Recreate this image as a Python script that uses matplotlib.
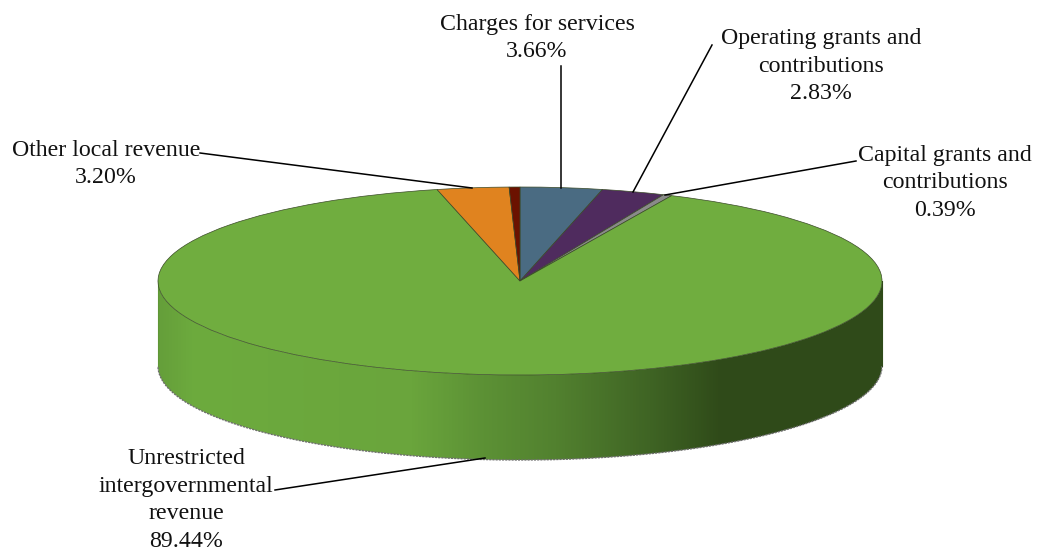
import numpy as np
from matplotlib import pyplot as plt
from matplotlib.colors import LinearSegmentedColormap
from matplotlib.patches import Polygon

plt.rcParams['font.family'] = ['Liberation Serif', 'DejaVu Serif']

# shares in percent, clockwise from 12 o'clock
labels = ['Charges for services\n3.66%',
          'Operating grants and\ncontributions\n2.83%',
          'Capital grants and\ncontributions\n0.39%',
          'Unrestricted\nintergovernmental\nrevenue\n89.44%',
          'Other local revenue\n3.20%',
          '']
values = [3.66, 2.83, 0.39, 89.44, 3.20, 0.48]
colors = ['#4a6b82', '#4f2b5e', '#8a8a8a', '#70ad3f', '#e0831f', '#6b1200']

# where labels and leader lines sit, in image pixels
label_pos = [(537, 38), (821, 66), (945, 183), (186, 500), (106, 164)]
leaders = [((561, 66), (561, 188)),
           ((712, 45), (633, 192)),
           ((856, 161), (665, 195)),
           ((275, 490), (485, 458)),
           ((200, 153), (472, 188))]

cx, cy, rx, ry = 520, 281, 362, 94
depth = 85

fig = plt.figure(figsize=(10.39, 5.5), dpi=100)
back = fig.add_axes([0, 0, 1, 1], zorder=0)
back.set_xlim(0, 1039)
back.set_ylim(550, 0)
back.axis('off')

# side wall of the disc
t = np.linspace(0, np.pi, 300)
ex = cx + rx * np.cos(t)
ey = cy + ry * np.sin(t)
wall = np.column_stack([np.r_[ex, ex[::-1]], np.r_[ey + depth, ey[::-1]]])

wall_cmap = LinearSegmentedColormap.from_list('wall', [
    (0.00, '#659f3a'), (0.05, '#6dab3e'), (0.35, '#6aa53c'), (0.45, '#5c9135'),
    (0.55, '#52812f'), (0.68, '#3f6424'), (0.78, '#2f4a19'), (1.00, '#304b1a')])
grad = np.linspace(0, 1, 512).reshape(1, -1)
im = back.imshow(grad, cmap=wall_cmap, aspect='auto', zorder=1,
                 extent=(cx - rx, cx + rx, cy + ry + depth + 2, cy - 5))
poly = Polygon(wall, closed=True, transform=back.transData, fc='none', ec='none')
back.add_patch(poly)
im.set_clip_path(poly)
back.set_xlim(0, 1039)
back.set_ylim(550, 0)

# grey rim along the bottom of the wall
back.plot(ex, ey + depth, color='#6e6e6e', lw=1.0, ls=(0, (1.5, 0.8)), zorder=2)
back.plot([cx - rx, cx - rx], [cy, cy + depth], color='#5f9636', lw=0.8, zorder=2)
back.plot([cx + rx, cx + rx], [cy, cy + depth], color='#2f4a19', lw=0.8, zorder=2)

# top face
top = fig.add_axes([(cx - rx) / 1039, (550 - cy - ry) / 550,
                    2 * rx / 1039, 2 * ry / 550], zorder=1)
top.pie(values, colors=colors, startangle=90, counterclock=False, radius=1,
        wedgeprops=dict(linewidth=0.5, edgecolor='#3a4a28'))
top.set_aspect('auto')
top.set_xlim(-1, 1)
top.set_ylim(-1, 1)
top.patch.set_alpha(0)
for w in top.patches:
    w.set_clip_on(False)

over = fig.add_axes([0, 0, 1, 1], zorder=2)
over.set_xlim(0, 1039)
over.set_ylim(550, 0)
over.axis('off')
for lab, (x, y) in zip(labels, label_pos):
    over.text(x, y, lab, ha='center', va='center', fontsize=17.2,
              color='#111111', linespacing=1.4)
for (x0, y0), (x1, y1) in leaders:
    over.plot([x0, x1], [y0, y1], color='black', lw=1.1)

fig.savefig('out.png', dpi=100, facecolor='white')
